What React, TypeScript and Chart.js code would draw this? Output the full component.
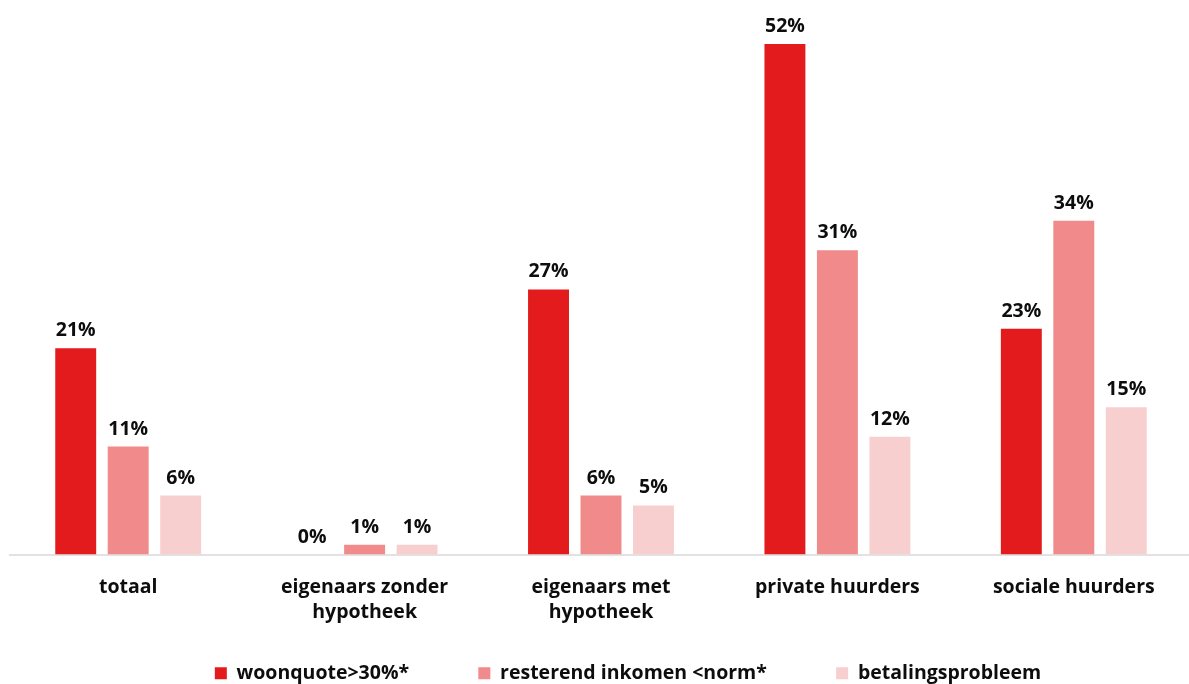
import React, { useEffect, useRef } from "react";
import { Chart, registerables } from "chart.js";

Chart.register(...registerables);

const categories: (string | string[])[] = [
  "totaal",
  ["eigenaars zonder", "hypotheek"],
  ["eigenaars met", "hypotheek"],
  "private huurders",
  "sociale huurders",
];
const seriesNames = ["woonquote>30%*", "resterend inkomen <norm*", "betalingsprobleem"];
const woonquote = [21, 0, 27, 52, 23];
const resterend = [11, 1, 6, 31, 34];
const betaling = [6, 1, 5, 12, 15];
const colors = ["#E31B1C", "#F18A8A", "#F8CFCF"];

const FONT = "'Open Sans', sans-serif";
const FS = 19.5;
const LEGEND_GAP = "\u2003\u2002";

const labelPlugin = {
  id: "valueLabels",
  afterDatasetsDraw(chart: any) {
    const ctx = chart.ctx;
    ctx.save();
    ctx.font = `700 ${FS}px ${FONT}`;
    ctx.fillStyle = "#0d0d0d";
    ctx.textAlign = "center";
    ctx.textBaseline = "alphabetic";
    chart.data.datasets.forEach((ds: any, i: number) => {
      const meta = chart.getDatasetMeta(i);
      meta.data.forEach((bar: any, j: number) => {
        ctx.fillText(`${ds.data[j]}%`, bar.x, bar.y - 12);
      });
    });
    ctx.restore();
  },
};

export default function App() {
  const ref = useRef<HTMLCanvasElement | null>(null);
  useEffect(() => {
    document.body.style.margin = "0";
    if (!ref.current) return;
    const chart = new Chart(ref.current, {
      type: "bar",
      data: {
        labels: categories,
        datasets: [woonquote, resterend, betaling].map((d, i) => ({
          label: seriesNames[i],
          data: d,
          backgroundColor: colors[i],
          borderWidth: 0,
          categoryPercentage: 0.666,
          barPercentage: 0.78,
        })),
      },
      options: {
        animation: false,
        responsive: true,
        maintainAspectRatio: false,
        layout: { padding: { top: 44, left: 10, right: 0, bottom: 0 } },
        scales: {
          x: {
            grid: { display: false },
            border: { display: true, color: "#E2E2E2", width: 2 },
            ticks: {
              color: "#0d0d0d",
              font: { family: FONT, size: FS, weight: "bold", lineHeight: 1.28 },
              padding: 12,
              maxRotation: 0,
              autoSkip: false,
            },
            afterFit: (scale: any) => {
              scale.height = 69;
            },
          },
          y: {
            position: "right",
            min: 0,
            max: 52,
            grid: { display: false },
            border: { display: false },
            ticks: { display: false },
            afterFit: (scale: any) => {
              scale.width = 54;
            },
          },
        },
        plugins: {
          tooltip: { enabled: false },
          legend: {
            position: "bottom",
            labels: {
              color: "#0d0d0d",
              font: { family: FONT, size: FS, weight: "bold" },
              boxWidth: 12,
              boxHeight: 12,
              padding: 40,
              generateLabels: (c: any) => {
                const items = Chart.defaults.plugins.legend.labels.generateLabels(c);
                return items.map((it: any, i: number) => ({
                  ...it,
                  text: i < items.length - 1 ? it.text + LEGEND_GAP : it.text,
                }));
              },
            },
          },
        },
      },
      plugins: [labelPlugin],
    });
    return () => chart.destroy();
  }, []);
  return (
    <div style={{ width: 1189, height: 684, overflow: "hidden", position: "relative" }}>
      <div style={{ width: 1246, height: 693 }}>
        <canvas ref={ref} />
      </div>
    </div>
  );
}
